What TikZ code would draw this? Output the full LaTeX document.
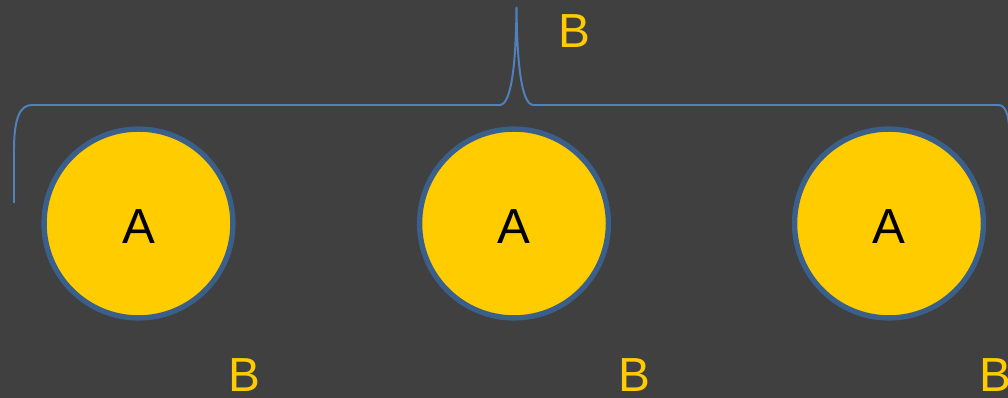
\documentclass[tikz,border=0pt]{standalone}
\usepackage{fontspec}
\setmainfont{Liberation Sans}
\usetikzlibrary{calc}

\definecolor{bgGray}{RGB}{64,64,64}
\definecolor{discYellow}{RGB}{255,204,0}
\definecolor{discEdge}{RGB}{58,95,139}
\definecolor{braceBlue}{RGB}{79,129,189}

\begin{document}
\begin{tikzpicture}[x=0.025cm, y=-0.025cm,
  disc/.style={circle, draw=discEdge, line width=3.8pt, fill=discYellow,
    inner sep=0pt, minimum size=4.72cm, text=black, text height=29pt,
    font=\fontsize{35}{35}\selectfont},
  blabel/.style={text=discYellow, inner sep=0pt, font=\fontsize{34}{34}\selectfont}]

%% ============================================================
%% Canvas: 1008 x 398 px, dark background
%% ============================================================
\useasboundingbox (0,0) rectangle (1008,398);
\fill[bgGray] (0,0) rectangle (1008,398);

%% ---- Discs ----
\def\discY{223.5}
\node[disc] (a1) at (138.5,\discY) {A};
\node[disc] (a2) at (514,\discY) {A};
\node[disc] (a3) at (889,\discY) {A};

%% ---- Labels ----
\node[blabel] (btop) at (574.5,31.5) {B};
\node[blabel] (b1) at (244.5,375) {B};
\node[blabel] (b2) at (634.5,375) {B};
\node[blabel] (b3) at (995,375) {B};

%% ---- Brace over the discs ----
\draw[braceBlue, line width=1.4pt]
  (14,203) -- (14,150) .. controls (14,118) and (20,105) .. (32,105)
  -- (500,105) .. controls (512,104) and (516,60) .. (516.5,7)
  .. controls (517,60) and (521,104) .. (533,105)
  -- (998,105) .. controls (1006,105) and (1010,114) .. (1010,150);

\end{tikzpicture}
\end{document}
